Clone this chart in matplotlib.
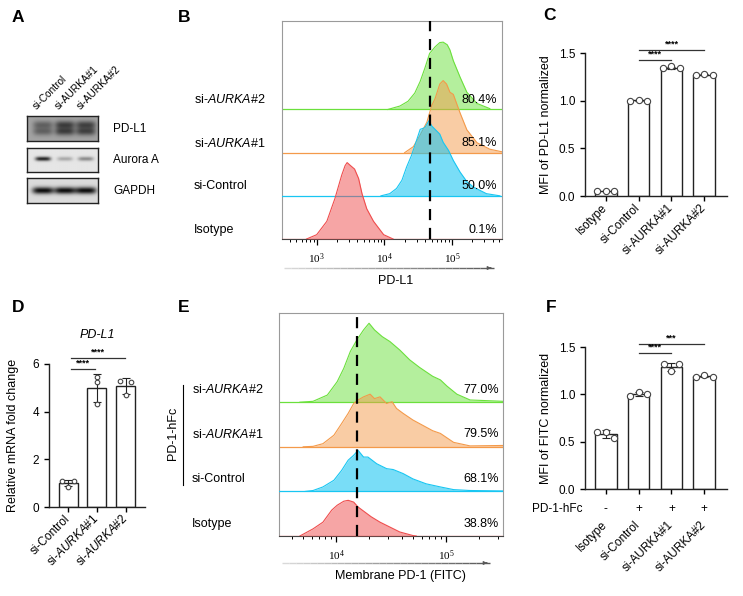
import numpy as np
import matplotlib
matplotlib.use("Agg")
import matplotlib.pyplot as plt
from matplotlib.ticker import LogLocator, NullFormatter
from matplotlib.collections import LineCollection

plt.rcParams["font.family"] = ["Liberation Sans", "DejaVu Sans"]
plt.rcParams["mathtext.fontset"] = "custom"
plt.rcParams["mathtext.rm"] = "Liberation Sans"
plt.rcParams["mathtext.it"] = "Liberation Sans:italic"
plt.rcParams["mathtext.bf"] = "Liberation Sans:bold"

W, H = 743, 596

# ---------------- data ----------------
# A: western blot band strength (0..1) per lane
blot_lanes = ["si-Control", "si-AURKA#1", "si-AURKA#2"]
blot_proteins = ["PD-L1", "Aurora A", "GAPDH"]
pdl1_band = [0.55, 0.85, 0.82]
aurora_band = [0.90, 0.28, 0.42]
gapdh_band = [0.95, 0.95, 0.95]

# B: PD-L1 flow histograms (log10 intensity, height in row units)
flow_rows = ["Isotype", "si-Control", "si-$\\mathit{AURKA}$#1", "si-$\\mathit{AURKA}$#2"]
pdl1_pct = ["0.1%", "50.0%", "85.1%", "80.4%"]
pdl1_gate = 47500
b_iso_log = [2.85, 3.00, 3.15, 3.27, 3.37, 3.42, 3.45, 3.50, 3.56, 3.62, 3.67, 3.74, 3.84, 3.99, 4.13]
b_iso_h = [0, 0.10, 0.41, 0.94, 1.48, 1.70, 1.77, 1.70, 1.62, 1.40, 1.05, 0.70, 0.41, 0.10, 0]
b_ctl_log = [3.95, 4.08, 4.18, 4.26, 4.33, 4.40, 4.45, 4.53, 4.60, 4.66, 4.70, 4.75, 4.82,
             4.87, 4.95, 5.02, 5.12, 5.22, 5.32, 5.51, 5.71]
b_ctl_h = [0, 0.05, 0.17, 0.36, 0.67, 0.93, 1.16, 1.54, 1.58, 1.74, 1.62, 1.54, 1.43,
           1.24, 1.05, 0.82, 0.55, 0.33, 0.20, 0.05, 0]
b_k1_log = [4.30, 4.43, 4.53, 4.63, 4.70, 4.75, 4.82, 4.87, 4.92, 4.97, 5.02, 5.12, 5.22,
            5.37, 5.56, 5.74]
b_k1_h = [0, 0.14, 0.41, 0.71, 1.09, 1.25, 1.59, 1.67, 1.59, 1.40, 1.35, 0.92, 0.53,
          0.23, 0.08, 0.02]
b_k2_log = [4.05, 4.23, 4.35, 4.45, 4.53, 4.60, 4.67, 4.75, 4.82, 4.87, 4.93, 4.97, 5.02,
            5.12, 5.22, 5.37, 5.56]
b_k2_h = [0, 0.08, 0.19, 0.38, 0.65, 0.96, 1.30, 1.45, 1.55, 1.56, 1.50, 1.38, 1.13,
          0.75, 0.40, 0.14, 0.02]

# C: MFI of PD-L1 normalized
groups = ["Isotype", "si-Control", "si-AURKA#1", "si-AURKA#2"]
c_points = [[0.05, 0.05, 0.05], [1.00, 1.01, 1.00], [1.34, 1.36, 1.34], [1.27, 1.28, 1.27]]

# D: relative PD-L1 mRNA
d_groups = ["si-Control", "si-$\\mathit{AURKA}$#1", "si-$\\mathit{AURKA}$#2"]
d_points = [[1.07, 1.07, 0.86], [5.44, 5.23, 4.31], [5.28, 5.25, 4.68]]

# E: membrane PD-1 (FITC) flow histograms
pd1_pct = ["38.8%", "68.1%", "79.5%", "77.0%"]
pd1_gate = 15500
e_iso_log = [3.67, 3.79, 3.88, 3.96, 4.01, 4.07, 4.11, 4.16, 4.20, 4.26, 4.32, 4.40, 4.49,
             4.58, 4.70, 4.73]
e_iso_h = [0, 0.16, 0.31, 0.58, 0.69, 0.78, 0.80, 0.76, 0.65, 0.54, 0.43, 0.31, 0.20,
           0.09, 0.01, 0]
e_ctl_log = [3.72, 3.79, 3.88, 3.98, 4.05, 4.11, 4.16, 4.20, 4.25, 4.29, 4.37, 4.46, 4.52,
             4.61, 4.70, 4.82, 4.95, 5.07, 5.22, 5.52]
e_ctl_h = [0, 0.02, 0.10, 0.25, 0.47, 0.70, 0.81, 0.92, 0.77, 0.77, 0.62, 0.51, 0.49,
           0.40, 0.28, 0.17, 0.10, 0.04, 0.02, 0.01]
e_k1_log = [3.70, 3.79, 3.88, 3.98, 4.05, 4.11, 4.16, 4.20, 4.25, 4.31, 4.35, 4.40, 4.46,
            4.51, 4.55, 4.61, 4.70, 4.79, 4.88, 4.95, 5.07, 5.22, 5.52]
e_k1_h = [0, 0.01, 0.07, 0.26, 0.52, 0.75, 0.97, 1.05, 1.12, 1.18, 1.08, 1.12, 0.97,
          1.01, 0.86, 0.75, 0.60, 0.48, 0.36, 0.30, 0.10, 0.02, 0.03]
e_k2_log = [3.67, 3.79, 3.92, 4.01, 4.07, 4.13, 4.19, 4.25, 4.30, 4.35, 4.42, 4.49, 4.58,
            4.67, 4.76, 4.88, 4.95, 5.01, 5.10, 5.22, 5.52]
e_k2_h = [0, 0.02, 0.16, 0.46, 0.76, 1.14, 1.40, 1.62, 1.77, 1.62, 1.47, 1.36, 1.17,
          0.95, 0.78, 0.58, 0.50, 0.36, 0.18, 0.05, 0.02]

# F: MFI of FITC normalized
f_points = [[0.606, 0.606, 0.536], [0.98, 1.02, 1.00], [1.318, 1.318, 1.244], [1.185, 1.20, 1.185]]
f_hfc = ["-", "+", "+", "+"]

HIST_COLORS = ["#ef4d4d", "#18c6f2", "#f49a4a", "#6be03c"]
HIST_ALPHA = [0.5, 0.58, 0.5, 0.5]

fig = plt.figure(figsize=(W / 100, H / 100), dpi=100)


def px_axes(x0, y0, x1, y1):
    return fig.add_axes([x0 / W, 1 - y1 / H, (x1 - x0) / W, (y1 - y0) / H])


def ftext(x, y, s, **kw):
    fig.text(x / W, 1 - y / H, s, **kw)


def gradient_arrow(x0, x1, y):
    n = 30
    xs = np.linspace(x0, x1, n + 1) / W
    segs = [[(xs[i], 1 - y / H), (xs[i + 1], 1 - y / H)] for i in range(n)]
    cols = plt.cm.gray(np.linspace(0.85, 0.35, n))
    lc = LineCollection(segs, colors=cols, linewidths=1.0, transform=fig.transFigure)
    fig.add_artist(lc)
    fig.add_artist(matplotlib.patches.FancyArrowPatch(
        ((x1 - 6) / W, 1 - y / H), (x1 / W, 1 - y / H), transform=fig.transFigure,
        arrowstyle="-|>", mutation_scale=5, color="#555555", lw=0.8))


# panel letters
for letter, (x, y) in zip("ABCDEF", [(18, 17), (184, 17), (550, 16), (18, 308), (184, 308), (551, 308)]):
    ftext(x, y, letter, fontsize=12.5, fontweight="bold", ha="center", va="center")

# ---------------- A: blots ----------------
lane_pos = [0.225, 0.535, 0.83]


def draw_blot(ax, levels, bg, rows, thick, width, dark):
    xs = np.linspace(0, 1, 160)
    ys = np.linspace(0, 1, 60)
    X, Y = np.meshgrid(xs, ys)
    img = np.full(X.shape, bg)
    for c, v in zip(lane_pos, levels):
        prof = np.exp(-((X - c) / width) ** 4)
        for r in rows:
            img -= dark * v * prof * np.exp(-((Y - r) / thick) ** 2)
    ax.imshow(np.clip(img, 0, 1), cmap="gray", vmin=0, vmax=1, aspect="auto",
              extent=(0, 1, 1, 0), interpolation="bilinear")
    ax.set_xticks([])
    ax.set_yticks([])
    for s in ax.spines.values():
        s.set_linewidth(1.0)
        s.set_color("#222222")


ax = px_axes(27, 116, 98, 141)
draw_blot(ax, pdl1_band, 0.64, [0.35, 0.62], 0.16, 0.14, 0.45)
ax = px_axes(27, 148, 98, 172)
draw_blot(ax, aurora_band, 0.90, [0.45], 0.09, 0.11, 0.85)
ax = px_axes(27, 178, 98, 203)
draw_blot(ax, gapdh_band, 0.86, [0.5], 0.14, 0.15, 0.85)

for name, y in zip(blot_proteins, [129, 160, 191]):
    ftext(113, y, name, fontsize=8.5, va="center", ha="left")
for name, x in zip(blot_lanes, [38, 60, 82]):
    ftext(x, 111, name, fontsize=7.3, rotation=45, ha="left", va="bottom",
          rotation_mode="anchor")


# ---------------- flow histogram helper ----------------
def flow_panel(ax, curves, pcts, gate, xlim, ylim, lab_x, lab_dy, pct_x):
    bases = [0, 1, 2, 3]
    order = [3, 2, 1, 0]
    for i in order:
        lg, h = curves[i]
        x = 10 ** np.asarray(lg)
        y = bases[i] + np.asarray(h)
        ax.axhline(bases[i], color=HIST_COLORS[i], lw=0.9, zorder=1 + (3 - i))
        ax.fill_between(x, bases[i], y, color=HIST_COLORS[i], alpha=HIST_ALPHA[i],
                        lw=0, zorder=1 + (3 - i))
        ax.plot(x, y, color=HIST_COLORS[i], lw=0.8, zorder=1 + (3 - i))
    ax.axvline(gate, color="black", lw=1.6, dashes=(5, 3.5), zorder=10)
    ax.set_xscale("log")
    ax.set_xlim(*xlim)
    ax.set_ylim(*ylim)
    ax.set_yticks([])
    ax.xaxis.set_major_locator(LogLocator(base=10))
    ax.xaxis.set_minor_locator(LogLocator(base=10, subs=np.arange(2, 10)))
    ax.xaxis.set_minor_formatter(NullFormatter())
    ax.tick_params(axis="x", which="major", length=4, width=0.9, pad=5)
    ax.tick_params(axis="x", which="minor", length=2.5, width=0.7)
    ticks = [t for t in ax.get_xticks() if xlim[0] <= t <= xlim[1]]
    ax.set_xticks(ticks)
    ax.set_xticklabels([r"$\mathregular{10^{%d}}$" % round(np.log10(t)) for t in ticks],
                       fontfamily="Liberation Serif", fontsize=8)
    for s in ["top", "left", "right"]:
        ax.spines[s].set_color("#9a9a9a")
        ax.spines[s].set_linewidth(0.8)
    ax.spines["bottom"].set_color("#444444")
    ax.spines["bottom"].set_linewidth(0.8)
    tr = ax.get_yaxis_transform()
    for i in range(4):
        ax.text(lab_x, bases[i] + lab_dy, flow_rows[i], transform=tr, fontsize=9,
                ha="left", va="center")
        ax.text(pct_x, bases[i] + lab_dy, pcts[i], transform=tr, fontsize=9,
                ha="right", va="center", zorder=20)


# ---------------- B ----------------
ax = px_axes(282, 21, 502, 239)
flow_panel(ax, [(b_iso_log, b_iso_h), (b_ctl_log, b_ctl_h), (b_k1_log, b_k1_h), (b_k2_log, b_k2_h)],
           pdl1_pct, pdl1_gate, (10 ** 2.487, 10 ** 5.74), (0, 5.05), -0.40, 0.22, 0.978)
gradient_arrow(284, 494, 268)
ftext(396, 281, "PD-L1", fontsize=9, ha="center", va="center")

# ---------------- E ----------------
ax = px_axes(279, 313, 503, 536)
flow_panel(ax, [(e_iso_log, e_iso_h), (e_ctl_log, e_ctl_h), (e_k1_log, e_k1_h), (e_k2_log, e_k2_h)],
           pd1_pct, pd1_gate, (10 ** 3.48, 10 ** 5.52), (0, 5.0), -0.388, 0.28, 0.982)
tr = ax.get_yaxis_transform()
ax.plot([-0.429, -0.429], [1.14, 3.39], transform=tr, color="black", lw=0.8, clip_on=False)
ax.text(-0.473, 2.31, "PD-1-hFc", transform=tr, rotation=90, fontsize=9,
        ha="center", va="center")
gradient_arrow(282, 490, 563)
ftext(400, 576, "Membrane PD-1 (FITC)", fontsize=9, ha="center", va="center")


# ---------------- bar helper ----------------
def bar_panel(ax, labels, points, jitter, ylim, yticks, fmt, ylabel, labelpad, xlim,
              msize, sigs, star_fs=6.5, xpad=3.5):
    x = np.arange(len(points))
    means = [np.mean(p) for p in points]
    sds = [np.std(p, ddof=1) for p in points]
    ax.bar(x, means, width=0.66, color="white", edgecolor="#222222", lw=1.0, zorder=2)
    ax.errorbar(x, means, yerr=sds, fmt="none", ecolor="#222222", elinewidth=0.8,
                capsize=3, capthick=0.8, zorder=3)
    for i, p in enumerate(points):
        ax.plot(x[i] + np.asarray(jitter[i]), p, "o", ms=msize, mfc="white", mec="#444444",
                mew=0.8, zorder=4, clip_on=False)
    ax.set_xlim(*xlim)
    ax.set_ylim(*ylim)
    ax.set_yticks(yticks)
    ax.set_yticklabels([fmt.format(t) for t in yticks])
    ax.set_xticks(x)
    ax.set_xticklabels(labels, rotation=45, ha="right", va="center", rotation_mode="anchor")
    ax.tick_params(axis="both", length=3.5, width=1.0, labelsize=8.5)
    ax.tick_params(axis="x", pad=xpad)
    ax.set_ylabel(ylabel, fontsize=9, labelpad=labelpad)
    for s in ["top", "right"]:
        ax.spines[s].set_visible(False)
    for s in ["left", "bottom"]:
        ax.spines[s].set_linewidth(1.0)
        ax.spines[s].set_color("#222222")
    for i, j, y, stars in sigs:
        ax.plot([i, j], [y, y], color="#333333", lw=0.9, clip_on=False)
        ax.annotate(stars, ((i + j) / 2, y), xytext=(0, 1.0), textcoords="offset points",
                    ha="center", va="bottom", fontsize=star_fs, fontweight="bold",
                    annotation_clip=False)


spread = [-0.25, 0, 0.25]

# ---------------- C ----------------
ax = px_axes(585, 53, 727, 196)
bar_panel(ax, groups, c_points, [spread] * 4, (0, 1.5), [0, 0.5, 1.0, 1.5], "{:.1f}",
          "MFI of PD-L1 normalized", 5, (-0.63, 3.69), 4.5,
          [(1, 2, 1.43, "****"), (1, 3, 1.535, "****")])

# ---------------- D ----------------
ax = px_axes(49, 364, 145, 507)
bar_panel(ax, d_groups, d_points, [[-0.2, 0.2, 0], [0, 0, 0], [-0.2, 0.2, 0]],
          (0, 6), [0, 2, 4, 6], "{:.0f}", "Relative mRNA fold change", 10, (-0.67, 2.68), 3.3,
          [(0.1, 0.93, 5.79, "****"), (0.1, 1.98, 6.24, "****")])
ax.set_title("PD-L1", fontstyle="italic", fontsize=9, pad=19)

# ---------------- F ----------------
ax = px_axes(585, 347, 727, 489)
bar_panel(ax, groups, f_points, [spread, spread, [-0.22, 0.22, 0], spread], (0, 1.5),
          [0, 0.5, 1.0, 1.5], "{:.1f}", "MFI of FITC normalized", 5, (-0.63, 3.69), 4.5,
          [(1, 2, 1.437, "****"), (1, 3, 1.528, "***")], xpad=21)
tr = ax.get_xaxis_transform()
for i, s in enumerate(f_hfc):
    ax.text(i, -0.141, s, transform=tr, fontsize=8.5, ha="center", va="center")
ax.text(-0.02, -0.141, "PD-1-hFc", transform=ax.transAxes, fontsize=8.5, ha="right", va="center")

fig.savefig("out.png", dpi=100)
